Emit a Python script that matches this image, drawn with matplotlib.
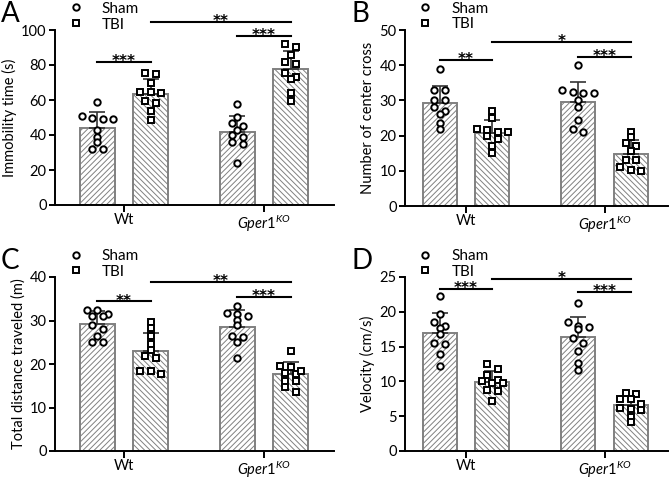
import numpy as np
import matplotlib
matplotlib.use("Agg")
import matplotlib.pyplot as plt
from matplotlib.lines import Line2D

plt.rcParams['font.family'] = ['Lato', 'DejaVu Sans']
plt.rcParams['mathtext.fontset'] = 'custom'
plt.rcParams['mathtext.rm'] = 'Lato'
plt.rcParams['mathtext.it'] = 'Lato:italic'
plt.rcParams['hatch.color'] = '#808080'
plt.rcParams['hatch.linewidth'] = 0.7

# group tick labels
groups = ['Wt', r'$\mathit{Gper1}^{\mathit{KO}}$']

# A - immobility time (s)
immob_sham_wt = [59, 51, 50, 49, 49, 43, 39, 36, 32, 32]
immob_tbi_wt = [75, 75.5, 70, 64, 64.5, 64.5, 58.5, 59.5, 54, 48.5]
immob_sham_ko = [58, 50.5, 47, 45, 43, 40, 39, 36, 35, 24]
immob_tbi_ko = [90.5, 92, 85.7, 80.6, 81.7, 73.3, 75.2, 72.2, 64.2, 59.6]

# B - number of center cross
cross_sham_wt = [39, 33, 33, 30, 30, 28, 27, 26, 23.5, 22]
cross_tbi_wt = [27, 25, 22, 21.5, 21, 21, 20, 19, 17, 15]
cross_sham_ko = [40, 33, 32.2, 32, 32.4, 30, 28, 24.5, 22, 21]
cross_tbi_ko = [21, 19.5, 18, 17, 15.5, 13, 13.2, 11, 10, 10.1]

# C - total distance traveled (m)
dist_sham_wt = [32.5, 32.4, 31.5, 31, 31.1, 29, 28, 26.5, 25, 25.1]
dist_tbi_wt = [29.6, 28.3, 26.4, 24.5, 23.3, 21.8, 21.3, 17.6, 18.5, 18.4]
dist_sham_ko = [33.4, 31.7, 31.5, 31, 30.2, 29, 26.4, 26.3, 25.1, 21.3]
dist_tbi_ko = [23.1, 19.5, 19.4, 17.6, 18.4, 18, 16.2, 16.1, 14.7, 13.6]

# D - velocity (cm/s)
vel_sham_wt = [22.2, 19.7, 18, 18.5, 17.7, 16.8, 15.4, 15.5, 14, 12.2]
vel_tbi_wt = [12.5, 11.8, 10.9, 10.2, 10.1, 9.8, 9.7, 8.8, 8.6, 7.2]
vel_sham_ko = [21.3, 18, 18.5, 17.8, 17.6, 16.2, 15.5, 14.3, 12.7, 11.7]
vel_tbi_ko = [8.4, 8.2, 7.4, 7.5, 6.8, 6.2, 6.1, 5.9, 4.9, 4.1]

# significance: (bar i, bar j, height, stars)
sig_a = [(0, 1, 81.7, '***'), (1, 3, 104.7, '**'), (2, 3, 96.7, '***')]
sig_b = [(0, 1, 41.4, '**'), (1, 3, 46.7, '*'), (2, 3, 42.4, '***')]
sig_c = [(0, 1, 34.4, '**'), (1, 3, 38.8, '**'), (2, 3, 35.5, '***')]
sig_d = [(0, 1, 23.3, '***'), (1, 3, 24.7, '*'), (2, 3, 22.8, '***')]

W, H = 669, 479
fig = plt.figure(figsize=(W / 100, H / 100), dpi=100)

GRAY = '#808080'
off = 0.19
bw = 0.245
MS, MEW = 4.6, 1.4


def swarm(vals, xc, sx, sy, d=10.5, thr=5.0):
    # GraphPad-like column scatter: rows of points spread symmetrically
    vals = np.asarray(vals, float)
    order = np.argsort(-vals)
    xs = np.zeros(len(vals))
    rows, cur = [], []
    for i in order:
        if cur and (vals[cur[0]] - vals[i]) * sy > thr:
            rows.append(cur)
            cur = []
        cur.append(i)
    rows.append(cur)
    for r in rows:
        n = len(r)
        for k, i in enumerate(r):
            xs[i] = xc + (k - (n - 1) / 2) * d / sx
    return xs


def panel(rect_px, xlim, ymax, ystep, ylabel, data, sig, letter):
    l, r, t, b = rect_px
    ax = fig.add_axes([l / W, (H - b) / H, (r - l) / W, (b - t) / H])
    ax.set_xlim(*xlim)
    ax.set_ylim(0, ymax)
    sx = (r - l) / (xlim[1] - xlim[0])
    sy = (b - t) / ymax
    pos = [-off, off, 1 - off, 1 + off]
    for k, vals in enumerate(data):
        vals = np.asarray(vals, float)
        m, sd = vals.mean(), vals.std(ddof=1)
        hatch = '//////' if k % 2 == 0 else '\\\\\\\\\\\\'
        ax.bar(pos[k], m, width=bw, color='white', edgecolor=GRAY,
               linewidth=1.4, hatch=hatch, zorder=1)
        ax.errorbar(pos[k], m, yerr=[[0], [sd]], color='#333333',
                    elinewidth=1.2, capsize=6, capthick=1.2, zorder=2)
        mk = 'o' if k % 2 == 0 else 's'
        xs = swarm(vals, pos[k], sx, sy)
        ax.plot(xs, vals, linestyle='none', marker=mk, ms=MS,
                mfc='white', mec='black', mew=MEW, zorder=3, clip_on=False)
    for i, j, h, stars in sig:
        ax.plot([pos[i], pos[j]], [h, h], color='black', lw=1.5,
                clip_on=False, zorder=4)
        ax.annotate(stars, ((pos[i] + pos[j]) / 2, h), xytext=(0, -3),
                    textcoords='offset points', ha='center', va='baseline',
                    fontsize=11, fontweight='bold', family='DejaVu Sans',
                    annotation_clip=False)
    for s in ['top', 'right']:
        ax.spines[s].set_visible(False)
    for s in ['left', 'bottom']:
        ax.spines[s].set_linewidth(1.4)
    ax.set_yticks(np.arange(0, ymax + 0.01, ystep))
    ax.set_xticks([0, 1])
    ax.set_xticklabels(groups)
    ax.tick_params(axis='both', width=1.4, length=4, labelsize=10.5, pad=2)
    ax.tick_params(axis='x', length=5, labelsize=10.5, pad=1)
    ax.set_ylabel(ylabel, fontsize=10.5, labelpad=3)
    handles = [Line2D([], [], marker='o', ls='none', ms=MS, mfc='white',
                      mec='black', mew=MEW),
               Line2D([], [], marker='s', ls='none', ms=MS, mfc='white',
                      mec='black', mew=MEW)]
    ax.legend(handles, ['Sham', 'TBI'], loc='upper left',
              bbox_to_anchor=(0.025, 1.205), frameon=False, fontsize=11,
              handletextpad=1.3, labelspacing=0.12, borderpad=0,
              handlelength=0.8, borderaxespad=0.5)
    fig.text((l - 54) / W, (H - t + 29) / H, letter, fontsize=20,
             ha='left', va='top')
    return ax


panel((55, 334, 30, 205), (-0.493, 1.5), 100, 20, 'Immobility time (s)',
      [immob_sham_wt, immob_tbi_wt, immob_sham_ko, immob_tbi_ko], sig_a, 'A')
panel((405, 668, 30, 206), (-0.44, 1.458), 50, 10, 'Number of center cross',
      [cross_sham_wt, cross_tbi_wt, cross_sham_ko, cross_tbi_ko], sig_b, 'B')
panel((55, 334, 277, 451), (-0.493, 1.5), 40, 10, 'Total distance traveled (m)',
      [dist_sham_wt, dist_tbi_wt, dist_sham_ko, dist_tbi_ko], sig_c, 'C')
panel((405, 668, 277, 451), (-0.44, 1.458), 25, 5, 'Velocity (cm/s)',
      [vel_sham_wt, vel_tbi_wt, vel_sham_ko, vel_tbi_ko], sig_d, 'D')

fig.savefig('out.png', dpi=100)
